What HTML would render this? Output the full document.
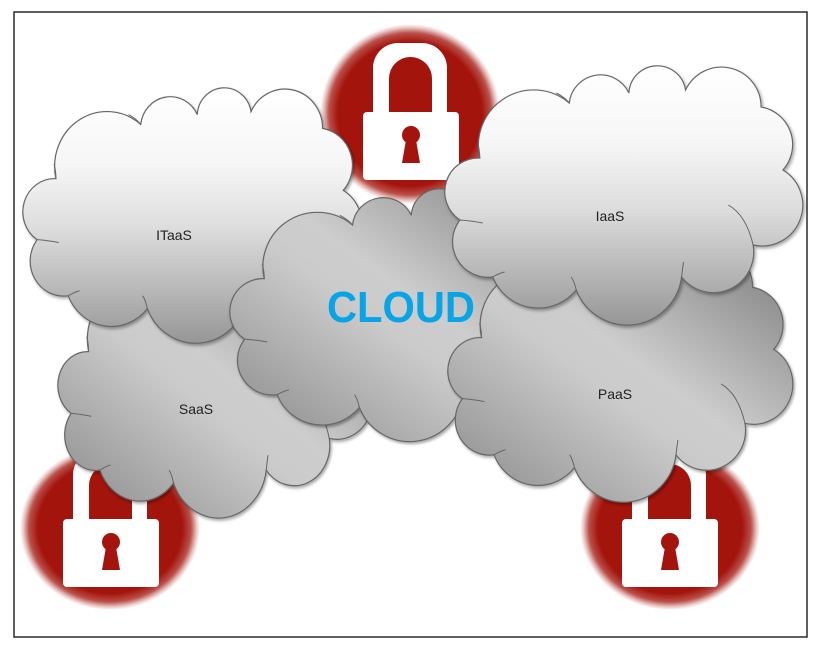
<!DOCTYPE html>
<html><head><meta charset="utf-8">
<style>html,body{margin:0;padding:0;background:#fff;}svg{display:block}</style>
</head>
<body>
<svg width="820" height="650" viewBox="0 0 820 650" xmlns="http://www.w3.org/2000/svg">
<defs>
  <linearGradient id="gw" x1="0" y1="0" x2="0" y2="1">
    <stop offset="0" stop-color="#ffffff"/>
    <stop offset="0.3" stop-color="#f6f6f6"/>
    <stop offset="0.55" stop-color="#dddddd"/>
    <stop offset="0.8" stop-color="#b6b6b6"/>
    <stop offset="1" stop-color="#969696"/>
  </linearGradient>
  <linearGradient id="gg" x1="1" y1="0" x2="0" y2="1">
    <stop offset="0" stop-color="#7a7a7a"/>
    <stop offset="0.45" stop-color="#cdcdcd"/>
    <stop offset="0.55" stop-color="#cbcbcb"/>
    <stop offset="1" stop-color="#888888"/>
  </linearGradient>
  <radialGradient id="red" cx="0.5" cy="0.5" r="0.5">
    <stop offset="0" stop-color="#a3140c"/>
    <stop offset="0.8" stop-color="#a3140c"/>
    <stop offset="0.9" stop-color="#a3140c" stop-opacity="0.75"/>
    <stop offset="0.96" stop-color="#a3140c" stop-opacity="0.25"/>
    <stop offset="1" stop-color="#a3140c" stop-opacity="0"/>
  </radialGradient>
  <filter id="sh" x="-10%" y="-10%" width="125%" height="125%">
    <feDropShadow dx="1.5" dy="2" stdDeviation="1.5" flood-color="#000" flood-opacity="0.35"/>
  </filter>
  <g id="lock">
    <path d="M10,0 V-44 A25,25 0 0 1 35,-69 H59 A25,25 0 0 1 84,-44 V0 Z M26,0 V-33.5 A21.5,21.5 0 0 1 69,-33.5 V0 Z" fill="#ffffff" fill-rule="evenodd"/>
    <rect x="0" y="0" width="96" height="68" rx="4" fill="#ffffff"/>
    <circle cx="48" cy="23" r="9" fill="#a3140c"/>
    <polygon points="43,28 53,28 57,51 39,51" fill="#a3140c"/>
  </g>
</defs>

<!-- frame -->
<rect x="14" y="12" width="793" height="625" fill="#ffffff" stroke="#2a2a2a" stroke-width="1.5"/>

<!-- lock circles -->
<ellipse cx="410" cy="114" rx="90" ry="90" fill="url(#red)"/>
<ellipse cx="110" cy="528" rx="90" ry="82" fill="url(#red)"/>
<ellipse cx="670" cy="528" rx="90" ry="82" fill="url(#red)"/>

<!-- locks -->
<use href="#lock" transform="translate(363,112)"/>
<use href="#lock" transform="translate(63,519)"/>
<use href="#lock" transform="translate(622,519)"/>

<!-- SaaS -->
<g transform="translate(58,259) scale(0.875,0.996)">
  <path filter="url(#sh)" fill="url(#gg)" stroke="#666" stroke-width="1.2" vector-effect="non-scaling-stroke" d="M35,93 A55.6,55.6 0 0 1 125,38 A31.6,31.6 0 0 1 185,28 A28.7,28.7 0 0 1 242,25 A39.9,39.9 0 0 1 318,42 A38.1,38.1 0 0 1 340,105 A40.9,40.9 0 0 1 310,180 A40.6,40.6 0 0 1 238,212 A55.1,55.1 0 0 1 132,225 A49.3,49.3 0 0 1 48,212 A35.6,35.6 0 0 1 15,155 A33.8,33.8 0 0 1 35,93 Z"/>
  <path fill="none" stroke="#666" stroke-width="1" vector-effect="non-scaling-stroke" d="M285,140 Q303,150 310,180 M33,78 Q35,86 35,93 M15,155 Q28,156 38,158 M112,28 Q120,32 125,38 M238,212 Q239,203 240,197 M132,225 Q130,216 127,212 M48,212 Q55,208 60,207"/>
</g>

<!-- ITaaS -->
<g transform="translate(23,87) scale(0.942,0.985)">
  <path filter="url(#sh)" fill="url(#gw)" stroke="#666" stroke-width="1.2" vector-effect="non-scaling-stroke" d="M35,93 A55.6,55.6 0 0 1 125,38 A31.6,31.6 0 0 1 185,28 A28.7,28.7 0 0 1 242,25 A39.9,39.9 0 0 1 318,42 A38.1,38.1 0 0 1 340,105 A40.9,40.9 0 0 1 310,180 A40.6,40.6 0 0 1 238,212 A55.1,55.1 0 0 1 132,225 A49.3,49.3 0 0 1 48,212 A35.6,35.6 0 0 1 15,155 A33.8,33.8 0 0 1 35,93 Z"/>
  <path fill="none" stroke="#666" stroke-width="1" vector-effect="non-scaling-stroke" d="M285,140 Q303,150 310,180 M33,78 Q35,86 35,93 M15,155 Q28,156 38,158 M112,28 Q120,32 125,38 M238,212 Q239,203 240,197 M132,225 Q130,216 127,212 M48,212 Q55,208 60,207"/>
</g>

<!-- CLOUD -->
<g transform="translate(230,188) scale(0.98,0.975)">
  <path filter="url(#sh)" fill="url(#gg)" stroke="#666" stroke-width="1.2" vector-effect="non-scaling-stroke" d="M35,93 A55.6,55.6 0 0 1 125,38 A31.6,31.6 0 0 1 185,28 A28.7,28.7 0 0 1 242,25 A39.9,39.9 0 0 1 318,42 A38.1,38.1 0 0 1 340,105 A40.9,40.9 0 0 1 310,180 A40.6,40.6 0 0 1 238,212 A55.1,55.1 0 0 1 132,225 A49.3,49.3 0 0 1 48,212 A35.6,35.6 0 0 1 15,155 A33.8,33.8 0 0 1 35,93 Z"/>
  <path fill="none" stroke="#666" stroke-width="1" vector-effect="non-scaling-stroke" d="M285,140 Q303,150 310,180 M33,78 Q35,86 35,93 M15,155 Q28,156 38,158 M112,28 Q120,32 125,38 M238,212 Q239,203 240,197 M132,225 Q130,216 127,212 M48,212 Q55,208 60,207"/>
</g>

<!-- PaaS -->
<g transform="translate(448,246) scale(0.958,0.985)">
  <path filter="url(#sh)" fill="url(#gg)" stroke="#666" stroke-width="1.2" vector-effect="non-scaling-stroke" d="M35,93 A55.6,55.6 0 0 1 125,38 A31.6,31.6 0 0 1 185,28 A28.7,28.7 0 0 1 242,25 A39.9,39.9 0 0 1 318,42 A38.1,38.1 0 0 1 340,105 A40.9,40.9 0 0 1 310,180 A40.6,40.6 0 0 1 238,212 A55.1,55.1 0 0 1 132,225 A49.3,49.3 0 0 1 48,212 A35.6,35.6 0 0 1 15,155 A33.8,33.8 0 0 1 35,93 Z"/>
  <path fill="none" stroke="#666" stroke-width="1" vector-effect="non-scaling-stroke" d="M285,140 Q303,150 310,180 M33,78 Q35,86 35,93 M15,155 Q28,156 38,158 M112,28 Q120,32 125,38 M238,212 Q239,203 240,197 M132,225 Q130,216 127,212 M48,212 Q55,208 60,207"/>
</g>

<!-- IaaS -->
<g transform="translate(445,65) scale(0.994,1)">
  <path filter="url(#sh)" fill="url(#gw)" stroke="#666" stroke-width="1.2" vector-effect="non-scaling-stroke" d="M35,93 A55.6,55.6 0 0 1 125,38 A31.6,31.6 0 0 1 185,28 A28.7,28.7 0 0 1 242,25 A39.9,39.9 0 0 1 318,42 A38.1,38.1 0 0 1 340,105 A40.9,40.9 0 0 1 310,180 A40.6,40.6 0 0 1 238,212 A55.1,55.1 0 0 1 132,225 A49.3,49.3 0 0 1 48,212 A35.6,35.6 0 0 1 15,155 A33.8,33.8 0 0 1 35,93 Z"/>
  <path fill="none" stroke="#666" stroke-width="1" vector-effect="non-scaling-stroke" d="M285,140 Q303,150 310,180 M33,78 Q35,86 35,93 M15,155 Q28,156 38,158 M112,28 Q120,32 125,38 M238,212 Q239,203 240,197 M132,225 Q130,216 127,212 M48,212 Q55,208 60,207"/>
</g>

<!-- labels -->
<g font-family="'Liberation Sans', sans-serif" font-size="14" fill="#222" text-anchor="middle">
  <text x="174" y="240">ITaaS</text>
  <text x="610" y="221">IaaS</text>
  <text x="196" y="414">SaaS</text>
  <text x="615" y="399">PaaS</text>
</g>
<text x="327" y="322" font-family="'Liberation Sans', sans-serif" font-weight="bold" font-size="44" fill="#07a4e6" textLength="148" lengthAdjust="spacingAndGlyphs">CLOUD</text>
</svg>
</body></html>
